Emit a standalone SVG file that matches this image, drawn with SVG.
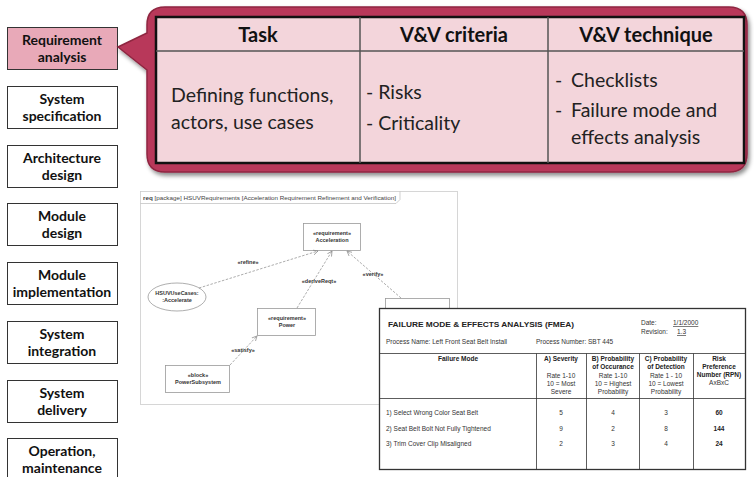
<svg xmlns="http://www.w3.org/2000/svg" width="754" height="477" viewBox="0 0 754 477">
<style>
.phase{fill:#fff;stroke:#333;stroke-width:1}
.phase-active{fill:#e8a9b8;stroke:#333;stroke-width:1}
.pl{font-family:Lato,"Liberation Sans",sans-serif;font-weight:bold;font-size:14px;fill:#111;text-anchor:middle}
.th{font-family:Lato,"Liberation Sans",sans-serif;font-weight:bold;font-size:20px;fill:#111;text-anchor:middle}
.td{font-family:Lato,"Liberation Sans",sans-serif;font-size:19.5px;fill:#222}
.sm{font-family:"Liberation Sans",Arial,sans-serif;font-size:5.5px;font-weight:bold;fill:#333;text-anchor:middle}
.sbox{fill:#fff;stroke:#999;stroke-width:0.8}
.dash{fill:none;stroke:#888;stroke-width:0.7;stroke-dasharray:2.5,1.5}
.fm{font-family:"Liberation Sans",Arial,sans-serif;font-size:6.5px;fill:#333}
.fmb{font-family:"Liberation Sans",Arial,sans-serif;font-size:6.5px;fill:#222;font-weight:bold}
.fl{stroke:#333;stroke-width:0.8}
</style>
<defs>
<marker id="oa" markerWidth="6" markerHeight="6" refX="5" refY="3" orient="auto" markerUnits="userSpaceOnUse">
<path d="M0,0.5 L5,3 L0,5.5" fill="none" stroke="#888" stroke-width="0.7"/>
</marker>
<filter id="sh" x="-5%" y="-5%" width="110%" height="115%">
<feDropShadow dx="2" dy="3" stdDeviation="2" flood-color="#000" flood-opacity="0.45"/>
</filter>
</defs>

<!-- phase boxes -->
<g id="req-analysis"><rect class="phase-active" x="7.5" y="27.5" width="110" height="42"/><text class="pl" x="62" y="45">Requirement</text><text class="pl" x="62" y="62">analysis</text></g>
<g id="sys-spec"><rect class="phase" x="7.5" y="86.5" width="110" height="42"/><text class="pl" x="62" y="104">System</text><text class="pl" x="62" y="121">specification</text></g>
<g id="arch-design"><rect class="phase" x="7.5" y="145.5" width="110" height="42"/><text class="pl" x="62" y="163">Architecture</text><text class="pl" x="62" y="180">design</text></g>
<g id="module-design"><rect class="phase" x="7.5" y="203.5" width="110" height="42"/><text class="pl" x="62" y="221">Module</text><text class="pl" x="62" y="238">design</text></g>
<g id="module-impl"><rect class="phase" x="7.5" y="262.5" width="110" height="42"/><text class="pl" x="62" y="280">Module</text><text class="pl" x="62" y="297">implementation</text></g>
<g id="sys-integration"><rect class="phase" x="7.5" y="321.5" width="110" height="42"/><text class="pl" x="62" y="339">System</text><text class="pl" x="62" y="356">integration</text></g>
<g id="sys-delivery"><rect class="phase" x="7.5" y="380.5" width="110" height="42"/><text class="pl" x="62" y="398">System</text><text class="pl" x="62" y="415">delivery</text></g>
<g id="operation"><rect class="phase" x="7.5" y="438.5" width="110" height="42"/><text class="pl" x="62" y="456">Operation,</text><text class="pl" x="62" y="473">maintenance</text></g>

<!-- callout with table -->
<g id="callout">
<path d="M165,7 H729 Q747,7 747,25 V154 Q747,172 729,172 H165 Q147,172 147,154 V70 L118,47 L147,33 V25 Q147,7 165,7 Z" fill="#b8395a" stroke="#8e2540" stroke-width="1.5" filter="url(#sh)"/>
<rect x="156" y="17" width="588" height="146" fill="#f3d5db" stroke="#111" stroke-width="2.5"/>
<line x1="156" y1="51" x2="744" y2="51" stroke="#555" stroke-width="1.5"/>
<line x1="360" y1="17" x2="360" y2="163" stroke="#555" stroke-width="1.5"/>
<line x1="548" y1="17" x2="548" y2="163" stroke="#555" stroke-width="1.5"/>
<text class="th" x="258" y="42">Task</text>
<text class="th" x="454" y="42">V&amp;V criteria</text>
<text class="th" x="646" y="42">V&amp;V technique</text>
<text class="td" x="171" y="102">Defining functions,</text>
<text class="td" x="171" y="129">actors, use cases</text>
<text class="td" x="366" y="99">- Risks</text>
<text class="td" x="366" y="130">- Criticality</text>
<text class="td" x="555" y="87">-<tspan x="571">Checklists</tspan></text>
<text class="td" x="555" y="117">-<tspan x="571">Failure mode and</tspan></text>
<text class="td" x="571" y="144">effects analysis</text>
</g>

<!-- SysML requirement diagram -->
<g id="sysml-frame">
<rect x="140.5" y="191.5" width="317" height="213" fill="#fff" stroke="#ccc" stroke-width="0.8"/>
<path d="M140.5,203.5 H396 L400,199.5 V191.5" fill="none" stroke="#bbb" stroke-width="0.7"/>
<text x="143" y="199.5" font-family="Liberation Sans,Arial,sans-serif" font-size="5.8" fill="#444" textLength="253" lengthAdjust="spacingAndGlyphs"><tspan font-weight="bold">req</tspan> [package] HSUVRequirements [Acceleration Requirement Refinement and Verification]</text>
</g>
<g id="acceleration"><rect class="sbox" x="303.5" y="223.5" width="57" height="27"/><text class="sm" x="332" y="235">«requirement»</text><text class="sm" x="332" y="242">Acceleration</text></g>
<g id="accelerate-usecase"><ellipse cx="177" cy="297" rx="29" ry="14" fill="#fff" stroke="#999" stroke-width="0.8"/><text class="sm" x="177" y="295">HSUVUseCases:</text><text class="sm" x="177" y="302">:Accelerate</text></g>
<g id="power"><rect class="sbox" x="257.5" y="308.5" width="58" height="27"/><text class="sm" x="287" y="320">«requirement»</text><text class="sm" x="287" y="327">Power</text></g>
<g id="power-subsystem"><rect class="sbox" x="165.5" y="365.5" width="64" height="27"/><text class="sm" x="198" y="377">«block»</text><text class="sm" x="198" y="384">PowerSubsystem</text></g>
<g id="test-case"><rect class="sbox" x="385.5" y="298.5" width="64" height="30"/></g>

<g id="connectors">
<path class="dash" d="M199,288 L318,251" marker-end="url(#oa)"/>
<path class="dash" d="M297,308 L332,251" marker-end="url(#oa)"/>
<path class="dash" d="M401,298 L347,251" marker-end="url(#oa)"/>
<path class="dash" d="M230,365 L257,336" marker-end="url(#oa)"/>
<text class="sm" x="248" y="264">«refine»</text>
<text class="sm" x="319" y="283">«deriveReqt»</text>
<text class="sm" x="373" y="276">«verify»</text>
<text class="sm" x="243" y="352">«satisfy»</text>
</g>

<!-- FMEA table -->
<g id="fmea">
<rect x="379.5" y="308.5" width="366" height="161" fill="#fff" stroke="#333" stroke-width="1.3"/>
<text class="fmb" x="388" y="327" font-size="9" textLength="186" lengthAdjust="spacingAndGlyphs">FAILURE MODE &amp; EFFECTS ANALYSIS (FMEA)</text>
<text class="fm" x="641" y="325">Date:</text>
<text class="fm" x="673" y="325" text-decoration="underline">1/1/2000</text>
<text class="fm" x="641" y="334">Revision:</text>
<text class="fm" x="677" y="334" text-decoration="underline">1.3</text>
<text class="fm" x="386" y="344">Process Name: Left Front Seat Belt Install</text>
<text class="fm" x="536" y="344">Process Number:  SBT 445</text>
<line class="fl" x1="379.5" y1="353.5" x2="745.5" y2="353.5" stroke-width="1.2"/>
<line class="fl" x1="379.5" y1="398.5" x2="745.5" y2="398.5"/>
<line class="fl" x1="536.5" y1="353.5" x2="536.5" y2="469.5"/>
<line class="fl" x1="586.5" y1="353.5" x2="586.5" y2="469.5"/>
<line class="fl" x1="639.5" y1="353.5" x2="639.5" y2="469.5"/>
<line class="fl" x1="693.5" y1="353.5" x2="693.5" y2="469.5"/>
<g text-anchor="middle">
<text class="fmb" x="458" y="361">Failure Mode</text>
<text class="fmb" x="561" y="361">A) Severity</text>
<text class="fm" x="561" y="378">Rate 1-10</text>
<text class="fm" x="561" y="386">10 = Most</text>
<text class="fm" x="561" y="394">Severe</text>
<text class="fmb" x="613" y="361">B) Probability</text>
<text class="fmb" x="613" y="369">of Occurance</text>
<text class="fm" x="613" y="378">Rate 1-10</text>
<text class="fm" x="613" y="386">10 = Highest</text>
<text class="fm" x="613" y="394">Probability</text>
<text class="fmb" x="666" y="361">C) Probability</text>
<text class="fmb" x="666" y="369">of Detection</text>
<text class="fm" x="666" y="378">Rate 1 - 10</text>
<text class="fm" x="666" y="386">10 = Lowest</text>
<text class="fm" x="666" y="394">Probability</text>
<text class="fmb" x="719" y="361">Risk</text>
<text class="fmb" x="719" y="369">Preference</text>
<text class="fmb" x="719" y="377">Number (RPN)</text>
<text class="fm" x="719" y="385">AxBxC</text>
<text class="fm" x="561" y="415">5</text><text class="fm" x="613" y="415">4</text><text class="fm" x="666" y="415">3</text><text class="fmb" x="719" y="415">60</text>
<text class="fm" x="561" y="431">9</text><text class="fm" x="613" y="431">2</text><text class="fm" x="666" y="431">8</text><text class="fmb" x="719" y="431">144</text>
<text class="fm" x="561" y="446">2</text><text class="fm" x="613" y="446">3</text><text class="fm" x="666" y="446">4</text><text class="fmb" x="719" y="446">24</text>
</g>
<text class="fm" x="386" y="415">1) Select Wrong Color Seat Belt</text>
<text class="fm" x="386" y="431">2) Seat Belt Bolt Not Fully Tightened</text>
<text class="fm" x="386" y="446">3) Trim Cover Clip Misaligned</text>
</g>
</svg>
